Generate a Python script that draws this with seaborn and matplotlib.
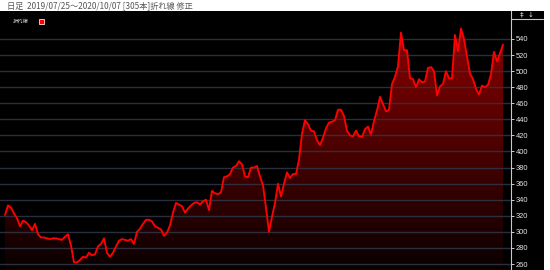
import numpy as np
import pandas as pd
import matplotlib
matplotlib.use("Agg")
import matplotlib.pyplot as plt
import seaborn as sns
from matplotlib.patches import Rectangle
from matplotlib.lines import Line2D
from matplotlib.colors import LinearSegmentedColormap

# ---------------- data ----------------
title_text = "日足  2019/07/25～2020/10/07 [305本]折れ線 修正"
legend_label = "折れ線"
y_ticks = [260, 280, 300, 320, 340, 360, 380, 400, 420, 440, 460, 480, 500, 520, 540]
prices = [
    321, 333, 330, 323, 317, 307, 314, 312, 308, 302,
    310, 297, 293, 293, 292, 291, 292, 292, 291, 290,
    294, 297, 283, 262, 262, 265, 269, 268, 274, 271,
    272, 282, 285, 292, 274, 269, 274, 282, 289, 291,
    290, 289, 291, 285, 300, 304, 310, 315, 315, 313,
    307, 305, 303, 295, 299, 308, 324, 336, 334, 332,
    324, 329, 333, 336, 337, 334, 338, 340, 327, 351,
    348, 347, 349, 368, 369, 372, 380, 382, 388, 384,
    369, 368, 380, 380, 382, 369, 358, 330, 300, 319,
    336, 360, 344, 360, 374, 367, 372, 372, 390, 422,
    439, 434, 426, 425, 414, 408, 417, 429, 436, 437,
    439, 452, 452, 444, 426, 420, 419, 426, 419, 418,
    428, 431, 421, 438, 451, 468, 459, 450, 452, 484,
    493, 506, 548, 526, 526, 491, 490, 480, 490, 486,
    487, 504, 505, 500, 470, 481, 484, 500, 491, 491,
    545, 525, 553, 540, 518, 497, 490, 478, 471, 482,
    480, 483, 496, 524, 512, 522, 533,
]
df = pd.DataFrame({"idx": np.arange(len(prices)), "price": prices})

# ---------------- style ----------------
sns.set_theme(style="dark")
plt.rcParams["font.family"] = ["Noto Sans CJK JP", "DejaVu Sans"]

W, H = 550, 270
fig = plt.figure(figsize=(W / 100, H / 100), dpi=100, facecolor="white")


def fx(px):
    return px / W


def fy(py):
    return 1 - py / H


# black panel behind plot and right scale
bg = Rectangle((0, 0), fx(544), fy(11), transform=fig.transFigure,
               facecolor="black", edgecolor="none", zorder=-10)
fig.patches.append(bg)

ax = fig.add_axes([0, 0, fx(511), fy(11)])
ax.set_zorder(1)
ax.set_facecolor("black")

px_per_step = 3.0
x_left = -5 / px_per_step
x_right = (511 - 5) / px_per_step
y_top = 540 + 28 / 0.8036
y_bot = 260 - 6 / 0.8036

# gradient fill under the line
poly = ax.fill_between(df["idx"], df["price"], y_bot, facecolor="none", edgecolor="none")
cmap = LinearSegmentedColormap.from_list("rg", ["#0a0000", "#940000"])
grad = np.linspace(0, 1, 256).reshape(-1, 1)
im = ax.imshow(grad, extent=[x_left, x_right, y_bot, y_top], origin="lower",
               aspect="auto", cmap=cmap, zorder=1)
im.set_clip_path(poly.get_paths()[0], transform=ax.transData)

# grid lines
ax.set_yticks(y_ticks)
ax.set_xticks([])
ax.set_axisbelow(False)
ax.grid(axis="y", color="#2e3444", linewidth=1.0, alpha=0.9)
ax.grid(axis="x", visible=False)

# price line
sns.lineplot(data=df, x="idx", y="price", color="#ff0000", linewidth=1.35,
             ax=ax, zorder=3, legend=False)
ax.set_xlabel("")
ax.set_ylabel("")
ax.set_xlim(x_left, x_right)
ax.set_ylim(y_bot, y_top)

# right scale
ax.yaxis.tick_right()
ax.tick_params(axis="y", which="major", direction="out", length=2.4, width=0.7,
               color="#cfcfcf", labelcolor="#e6e6e6", labelsize=5.4, pad=0.8,
               right=True, left=False)
for lab in ax.get_yticklabels():
    lab.set_fontfamily("Liberation Sans")
for side in ["top", "left", "bottom"]:
    ax.spines[side].set_visible(False)
ax.spines["right"].set_visible(True)
ax.spines["right"].set_color("#c8c8c8")
ax.spines["right"].set_linewidth(0.8)

# top line of right panel and icons
fig.lines.append(Line2D([fx(511), fx(543)], [fy(19), fy(19)], transform=fig.transFigure,
                        color="#c8c8c8", linewidth=0.8, zorder=5))
fig.text(fx(522), fy(14.5), "‡", color="#e6e6e6", fontsize=5, ha="center", va="center",
         family=["DejaVu Sans"], zorder=5)
fig.text(fx(530.5), fy(14.5), "↓", color="#e6e6e6", fontsize=5, ha="center", va="center",
         family=["DejaVu Sans"], zorder=5)

# title
fig.text(fx(7), fy(5.5), title_text, color="#555555", fontsize=5.9, ha="left", va="center")

# legend
fig.text(fx(13), fy(21), legend_label, color="#e0e0e0", fontsize=3.8, ha="left", va="center",
         zorder=5)
fig.patches.append(Rectangle((fx(38.5), fy(24)), fx(5.5), 5.5 / H, transform=fig.transFigure,
                             facecolor="#ff0000", edgecolor="#ffdddd", linewidth=0.6, zorder=5))

fig.savefig("out.png", dpi=100, facecolor="white")
